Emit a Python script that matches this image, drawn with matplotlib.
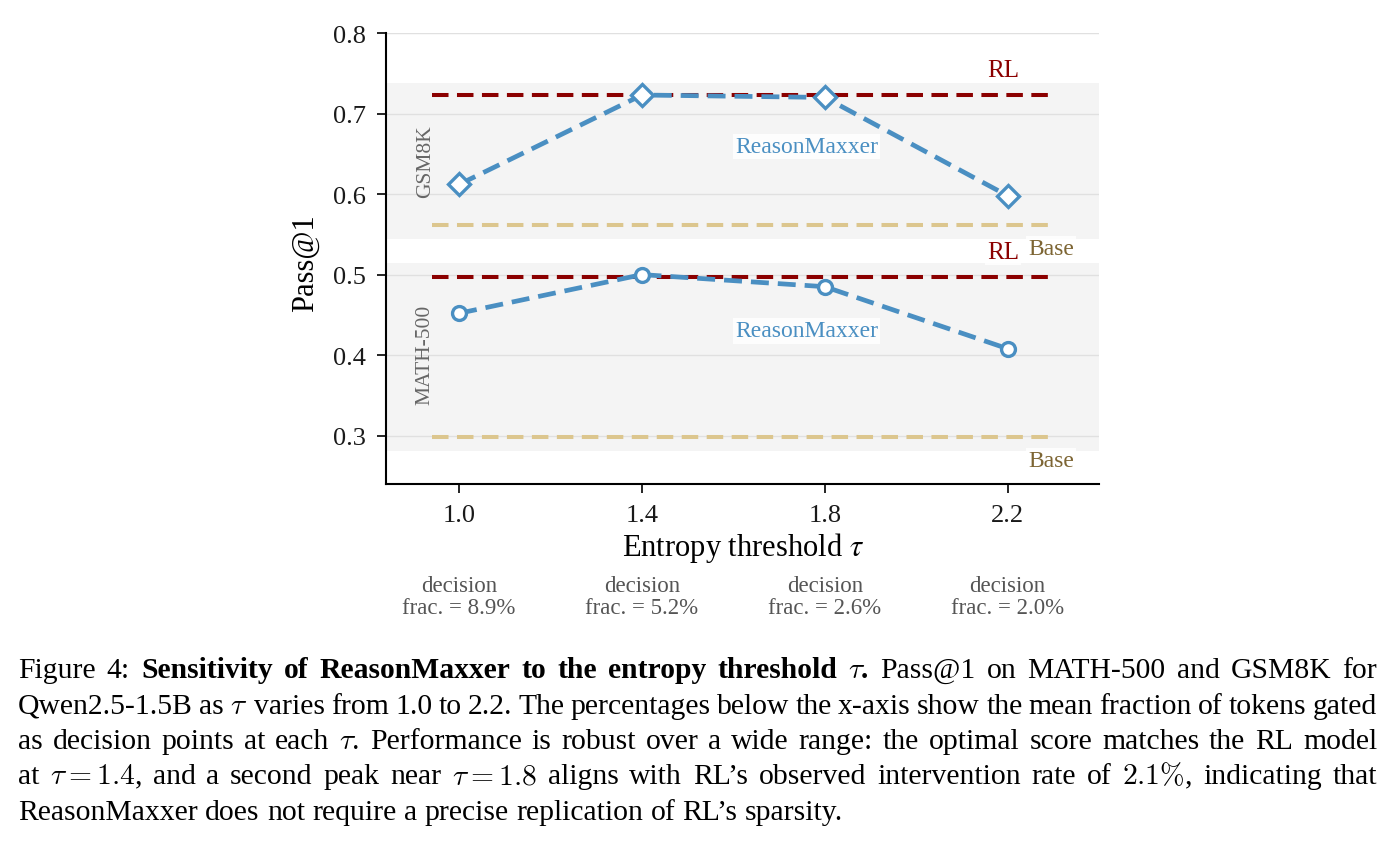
import matplotlib
matplotlib.use("Agg")
import matplotlib.pyplot as plt
from matplotlib.transforms import blended_transform_factory

# ---------------- data ----------------
taus = [1.0, 1.4, 1.8, 2.2]
tau_labels = ["1.0", "1.4", "1.8", "2.2"]
decision_frac = ["8.9%", "5.2%", "2.6%", "2.0%"]

gsm8k_rm = [0.612, 0.723, 0.720, 0.598]
gsm8k_rl = 0.723
gsm8k_base = 0.561

math_rm = [0.452, 0.500, 0.485, 0.408]
math_rl = 0.497
math_base = 0.298

yticks = [0.3, 0.4, 0.5, 0.6, 0.7, 0.8]
ytick_labels = ["0.3", "0.4", "0.5", "0.6", "0.7", "0.8"]

caption_lines = [
    [("Figure 4:", False),
     ("Sensitivity of ReasonMaxxer to the entropy threshold $\\tau$.", True),
     ("Pass@1 on MATH-500 and GSM8K for", False)],
    [("Qwen2.5-1.5B as $\\tau$ varies from 1.0 to 2.2. The percentages below the x-axis show the mean fraction of tokens gated", False)],
    [("as decision points at each $\\tau$. Performance is robust over a wide range: the optimal score matches the RL model", False)],
    [("at $\\tau=1.4$, and a second peak near $\\tau=1.8$ aligns with RL\u2019s observed intervention rate of $2.1\\%$, indicating that", False)],
    [("ReasonMaxxer does not require a precise replication of RL\u2019s sparsity.", False)],
]

# ---------------- style ----------------
plt.rcParams['font.family'] = ['Liberation Serif', 'DejaVu Serif']
plt.rcParams['mathtext.fontset'] = 'stix'

BLUE = '#4a8fc2'
RED = '#8b0000'
TAN = '#dcc68e'
TAN_TXT = '#7d6533'
BAND = '#f4f4f4'
GRID = '#e0e0e0'

W, H = 1392, 845
fig = plt.figure(figsize=(W / 100, H / 100), dpi=100)
ax = fig.add_axes([386 / W, 1 - 485 / H, (1099 - 386) / W, (485 - 34) / H])

ax.set_xlim(0.84, 2.40)
ax.set_ylim(0.24, 0.80)

# bands
for vals in [gsm8k_rm + [gsm8k_base, gsm8k_rl], math_rm + [math_base, math_rl]]:
    ax.axhspan(min(vals) - 0.017, max(vals) + 0.0145, color=BAND, zorder=0, lw=0)

ax.set_axisbelow(True)
ax.grid(axis='y', color=GRID, lw=1.0)
ax.grid(axis='x', visible=False)

# reference lines
xa, xb = taus[0] - 0.06, taus[-1] + 0.10
dash_ref = (0, (4.1, 2.1))
for rl, base in [(gsm8k_rl, gsm8k_base), (math_rl, math_base)]:
    ax.hlines(rl, xa, xb, colors=RED, lw=2.9, linestyles=[dash_ref], zorder=2)
    ax.hlines(base, xa, xb, colors=TAN, lw=2.9, linestyles=[dash_ref], zorder=2)

# ReasonMaxxer curves
dash_rm = (0, (3.8, 1.9))
ax.plot(taus, gsm8k_rm, ls=dash_rm, lw=3.4, color=BLUE, marker='D', ms=11.5,
        mfc='white', mec=BLUE, mew=2.4, zorder=4)
ax.plot(taus, math_rm, ls=dash_rm, lw=3.4, color=BLUE, marker='o', ms=10,
        mfc='white', mec=BLUE, mew=2.4, zorder=4)

# annotations
box = dict(facecolor='white', edgecolor='none', alpha=0.85, pad=1.5)
for rl, base, rm_y in [(gsm8k_rl, gsm8k_base, 0.659), (math_rl, math_base, 0.430)]:
    ax.text(2.19, rl + 0.031, "RL", color=RED, fontsize=18, ha='center', va='center',
            bbox=box, zorder=5)
    ax.text(2.295, base - 0.029, "Base", color=TAN_TXT, fontsize=17, ha='center',
            va='center', bbox=box, zorder=5)
    ax.text(1.76, rm_y, "ReasonMaxxer", color=BLUE, fontsize=17, ha='center',
            va='center', bbox=box, zorder=5)

ax.text(0.926, 0.641, "GSM8K", color='#666666', fontsize=15.5, rotation=90,
        ha='center', va='center', zorder=5)
ax.text(0.926, 0.402, "MATH-500", color='#666666', fontsize=15.5, rotation=90,
        ha='center', va='center', zorder=5)

# axes styling
for s in ['top', 'right']:
    ax.spines[s].set_visible(False)
for s in ['left', 'bottom']:
    ax.spines[s].set_linewidth(1.5)
    ax.spines[s].set_color('black')
ax.set_xticks(taus)
ax.set_xticklabels(tau_labels)
ax.set_yticks(yticks)
ax.set_yticklabels(ytick_labels)
ax.tick_params(axis='both', length=6.5, width=1.2, pad=8, labelsize=19, colors='black')
ax.tick_params(axis='both', labelcolor='#1a1a1a')

fig.text(743 / W, 1 - 548 / H, "Entropy threshold $\\tau$", fontsize=22,
         ha='center', va='center')
fig.text(305 / W, 1 - 263 / H, "Pass@1", fontsize=22, rotation=90,
         ha='center', va='center')

# decision fraction labels
trans = blended_transform_factory(ax.transData, ax.transAxes)
for t, f in zip(taus, decision_frac):
    ax.text(t, -0.249, "decision\nfrac. = " + f, transform=trans, fontsize=16.5,
            color='#555555', ha='center', va='center', linespacing=1.05,
            multialignment='center')

# ---------------- caption (justified) ----------------
renderer = fig.canvas.get_renderer()
x0, x1 = 18, 1377
baselines = [678, 713.5, 749, 784.5, 820]
cap_size = 21.3
for i, segs in enumerate(caption_lines):
    words = []
    for text, bold in segs:
        for w in text.split(' '):
            words.append((w, bold))
    objs = [fig.text(0, 1 - baselines[i] / H, w, fontsize=cap_size,
                     fontweight='bold' if b else 'normal', ha='left', va='baseline',
                     math_fontfamily='cm', color='black')
            for w, b in words]
    widths = [o.get_window_extent(renderer).width for o in objs]
    if i == len(caption_lines) - 1:
        space = 0.25 * cap_size * 100 / 72
    else:
        space = (x1 - x0 - sum(widths)) / (len(words) - 1)
    x = x0
    for o, w in zip(objs, widths):
        o.set_x(x / W)
        x += w + space

fig.savefig('out.png', dpi=100)
